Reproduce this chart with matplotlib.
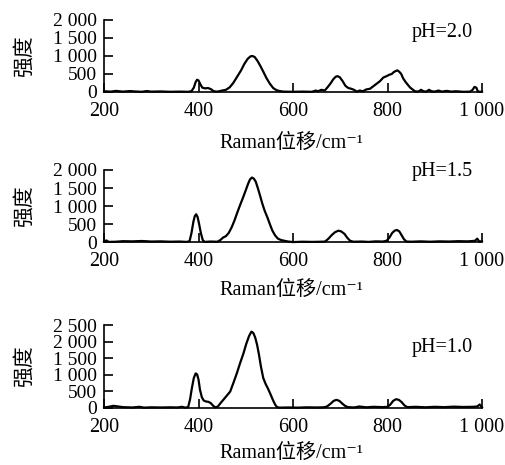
import matplotlib
matplotlib.use("Agg")
import matplotlib.pyplot as plt
from matplotlib.ticker import FuncFormatter

plt.rcParams['font.family'] = ['Liberation Serif', 'Noto Sans CJK SC', 'DejaVu Sans']

# ==============================
# Data
# ==============================
shift_ph20 = [200, 215, 225, 240, 255, 265, 280, 290, 300, 320, 340, 360, 378, 385, 390, 394, 397, 400,
              404, 408, 414, 420, 426, 432, 440, 450, 458, 466, 474, 482, 490, 497, 504, 510, 514, 519,
              525, 531, 538, 544, 551, 558, 565, 572, 580, 600, 620, 640, 648, 653, 660, 667, 673, 679,
              685, 690, 694, 699, 705, 711, 717, 723, 729, 735, 741, 748, 755, 763, 770, 777, 784, 791,
              798, 804, 809, 813, 817, 821, 825, 829, 833, 838, 843, 848, 853, 858, 865, 871, 876, 882,
              888, 893, 900, 908, 915, 925, 935, 945, 960, 975, 980, 984, 988, 991, 995, 1000]
int_ph20 = [20, 10, 30, 10, 25, 15, 5, 25, 10, 15, 5, 10, 5, 20, 120, 280, 340, 320,
            210, 120, 100, 110, 80, 20, 10, 40, 60, 130, 260, 430, 600, 780, 920, 990, 1000, 970,
            860, 720, 540, 380, 230, 110, 50, 25, 10, 5, 10, 5, 40, 20, 60, 40, 130, 230,
            350, 420, 440, 410, 300, 170, 110, 90, 60, 10, 40, 20, 70, 90, 160, 230, 300, 400,
            440, 480, 500, 550, 580, 600, 560, 500, 380, 280, 200, 120, 70, 20, 10, 60, 20, 10,
            60, 20, 10, 40, 10, 30, 10, 20, 5, 10, 60, 140, 120, 20, 5, 10]

shift_ph15 = [200, 205, 210, 225, 240, 260, 280, 300, 320, 340, 360, 375, 381, 385, 389, 392, 395, 398,
              401, 405, 409, 413, 425, 440, 446, 452, 458, 464, 470, 476, 482, 488, 494, 500, 505, 509,
              513, 517, 521, 525, 530, 535, 540, 546, 551, 556, 562, 568, 575, 582, 590, 600, 620, 640,
              660, 668, 675, 682, 689, 696, 702, 709, 715, 721, 728, 745, 760, 775, 790, 798, 804, 810,
              815, 820, 825, 830, 835, 840, 850, 870, 890, 910, 930, 950, 970, 985, 990, 994, 1000]
int_ph15 = [20, 50, 10, 15, 30, 25, 35, 20, 25, 15, 20, 10, 30, 250, 560, 720, 775, 700,
            520, 250, 60, 10, 20, 15, 60, 130, 170, 260, 410, 600, 820, 1030, 1230, 1440, 1620, 1740,
            1790, 1760, 1680, 1520, 1300, 1070, 870, 680, 500, 330, 190, 100, 60, 40, 20, 5, 15, 10,
            15, 20, 100, 200, 280, 320, 300, 230, 120, 40, 15, 20, 10, 25, 20, 40, 130, 260,
            320, 340, 300, 190, 80, 20, 15, 25, 15, 25, 20, 30, 25, 40, 100, 20, 30]

shift_ph10 = [200, 210, 220, 230, 240, 260, 275, 285, 300, 320, 340, 355, 365, 372, 378, 382, 386, 390,
              394, 397, 400, 403, 407, 411, 416, 421, 426, 431, 436, 441, 447, 453, 460, 467, 474, 481,
              488, 495, 501, 507, 512, 516, 520, 524, 528, 532, 537, 542, 547, 552, 557, 562, 566, 572,
              590, 610, 630, 650, 665, 672, 680, 686, 692, 698, 704, 710, 716, 730, 740, 755, 770, 790,
              800, 806, 812, 818, 824, 830, 836, 842, 860, 880, 900, 920, 940, 960, 980, 990, 995, 1000]
int_ph10 = [10, 30, 60, 40, 20, 10, 30, 5, 15, 10, 15, 10, 30, 5, 20, 250, 600, 900,
            1040, 1010, 850, 550, 320, 220, 190, 180, 140, 60, 10, 40, 150, 250, 370, 490, 760, 1040,
            1350, 1640, 1930, 2170, 2300, 2260, 2120, 1900, 1600, 1250, 900, 720, 580, 420, 250, 100, 20, 5,
            10, 5, 15, 10, 15, 40, 130, 210, 240, 210, 130, 60, 20, 10, 40, 15, 30, 20,
            30, 100, 210, 260, 240, 170, 70, 20, 30, 15, 30, 20, 35, 25, 30, 40, 100, 10]

# label, x, y, y max, axes rect, pH label height, x label height (axes coords)
panels = [
    ("pH=2.0", shift_ph20, int_ph20, 2000, [0.206, 0.8022, 0.7485, 0.1548], 0.833, -0.71),
    ("pH=1.5", shift_ph15, int_ph15, 2000, [0.206, 0.479, 0.7485, 0.1555], 0.972, -0.66),
    ("pH=1.0", shift_ph10, int_ph10, 2500, [0.206, 0.123, 0.7485, 0.178], 0.734, -0.545),
]


def space_thousands(v, pos):
    return f"{v:,.0f}".replace(",", " ")


fig = plt.figure(figsize=(5.05, 4.65), dpi=100)

for label, xs, ys, ytop, rect, label_y, xlab_y in panels:
    ax = fig.add_axes(rect)
    ax.plot(xs, ys, color="black", lw=1.6, clip_on=False)
    ax.set_xlim(200, 1000)
    ax.set_ylim(0, ytop)
    ax.set_xticks([200, 400, 600, 800, 1000])
    ax.set_yticks(range(0, ytop + 1, 500))
    ax.xaxis.set_major_formatter(FuncFormatter(space_thousands))
    ax.yaxis.set_major_formatter(FuncFormatter(space_thousands))
    ax.tick_params(direction="in", length=6.5, width=1.2)
    ax.tick_params(axis="x", pad=7, labelsize=14.5)
    ax.tick_params(axis="y", pad=5, labelsize=14)
    for side in ["top", "right"]:
        ax.spines[side].set_visible(False)
    for side in ["left", "bottom"]:
        ax.spines[side].set_linewidth(1.2)
    ax.set_xlabel("Raman位移/cm⁻¹", fontsize=14.5)
    ax.xaxis.set_label_coords(0.495, xlab_y)
    ax.xaxis.label.set_verticalalignment("center")
    ax.set_ylabel("强度", fontsize=15)
    ax.yaxis.set_label_coords(-0.183, 0.5)
    ax.text(0.975, label_y, label, transform=ax.transAxes, ha="right", va="center", fontsize=14.5)

fig.savefig("out.png", dpi=100)
